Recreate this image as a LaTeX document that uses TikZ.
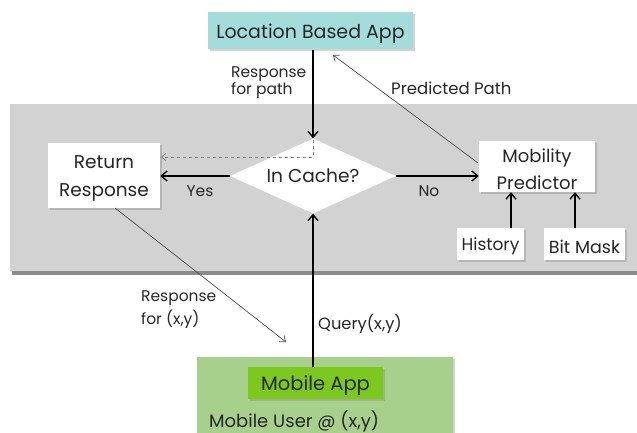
\documentclass[tikz,border=0pt]{standalone}
\usepackage{fontspec}
\setmainfont{Poppins}
\usetikzlibrary{shapes.geometric,arrows.meta,shadows}
\definecolor{cyanbox}{HTML}{A3DCDB}
\definecolor{bandgray}{HTML}{D2D2D2}
\definecolor{greenout}{HTML}{A8D08D}
\definecolor{greenin}{HTML}{7DC81E}
\definecolor{txt}{HTML}{262626}
\newcommand{\dnshift}[1]{\raisebox{-2.5pt}[\height][\depth]{#1}}
\tikzset{
  box/.style={draw=none, fill=white, inner sep=1pt, align=center, text=txt,
    drop shadow={shadow xshift=2pt, shadow yshift=-2pt, opacity=0.35}},
  lbl/.style={text=txt, font=\fontsize{15.5}{17}\selectfont, align=left, inner sep=0pt},
  thick arrow/.style={line width=1.5pt, -{Straight Barb[length=6pt,width=10pt,line width=1.3pt]}},
  thin arrow/.style={draw=black!70, line width=0.7pt, -{Straight Barb[length=5pt,width=8pt]}},
}
\begin{document}
\begin{tikzpicture}[x=1pt,y=-1pt]
\useasboundingbox (0,0) rectangle (637,433);
% gray band
\fill[black!45] (12,108) rectangle (637,275);
\node[fill=bandgray, minimum width=627pt, minimum height=167pt, inner sep=0pt, anchor=north west] (band) at (10,104) {};
% green user area
\node[fill=greenout, minimum width=256pt, minimum height=90pt, inner sep=0pt, anchor=north west,
  drop shadow={shadow xshift=2pt, shadow yshift=-2pt, opacity=0.35}] (user) at (197,357) {};
\node[lbl, font=\fontsize{18}{20}\selectfont, anchor=west] (usertxt) at (209,421) {Mobile User @ (x,y)};
\node[box, fill=greenin, minimum width=135pt, minimum height=32pt, font=\fontsize{19.5}{21}\selectfont] (app) at (315.5,383) {\dnshift{Mobile App}};
% top app
\node[box, fill=cyanbox, minimum width=205pt, minimum height=37pt, font=\fontsize{19}{21}\selectfont] (loc) at (310.5,31) {\dnshift{Location Based App}};
% boxes
\node[box, minimum width=112pt, minimum height=65pt, font=\fontsize{18.5}{28}\selectfont] (ret) at (104,175.5) {\dnshift{Return}\\\dnshift{Response}};
\node[draw=none, fill=white, diamond, aspect=2.2, minimum width=166pt, minimum height=75pt, inner sep=0pt, text=txt, font=\fontsize{18.6}{20}\selectfont] (cache) at (313,176) {In Cache?};
\node[box, minimum width=116pt, minimum height=51pt, font=\fontsize{18}{27}\selectfont] (mob) at (537,166.5) {\dnshift{Mobility}\\\dnshift{Predictor}};
\node[box, minimum width=67pt, minimum height=32pt, font=\fontsize{17}{19}\selectfont] (hist) at (490.5,244) {\dnshift{History}};
\node[box, minimum width=81pt, minimum height=32pt, font=\fontsize{17.5}{19}\selectfont] (bit) at (584.5,244) {\dnshift{Bit Mask}};
% coordinates
\coordinate (ctop) at (313,140);
\coordinate (cdash) at (313,157);
\coordinate (retdash) at (161,157);
\coordinate (predstart) at (478,163);
\coordinate (predend) at (333,55);
\coordinate (respstart) at (115,208);
\coordinate (respend) at (286,342);
% arrows
\draw[thick arrow] (loc.south -| cache.north) -- (cache.north);
\draw[thick arrow] (cache.west) -- (ret.east |- cache.west);
\draw[thick arrow] (cache.east) -- (mob.west |- cache.east);
\draw[thick arrow] (app.north -| cache.south) -- (cache.south);
\draw[thick arrow] (hist.north -| 511,0) -- (mob.south -| 511,0);
\draw[thick arrow] (bit.north -| 575,0) -- (mob.south -| 575,0);
\draw[draw=black!50, line width=0.8pt, dashed, -{Straight Barb[length=4pt,width=7pt]}] (ctop) -- (cdash) -- (retdash);
\draw[thin arrow] (predstart) -- (predend);
\draw[thin arrow] (respstart) -- (respend);
% labels
\node[lbl, font=\fontsize{15.5}{17}\selectfont, anchor=west] (l1) at (231,82.5) {Response\\for path};
\node[lbl, anchor=west, font=\fontsize{16.5}{18}\selectfont] (l2) at (391,88.5) {Predicted Path};
\node[lbl] (l3) at (200,191) {Yes};
\node[lbl] (l4) at (429,191) {No};
\node[lbl, font=\fontsize{16.3}{18}\selectfont, anchor=west] (l5) at (318,323.5) {Query(x,y)};
\node[lbl, font=\fontsize{15.5}{23}\selectfont, anchor=west] (l6) at (141,310) {Response\\for (x,y)};
\end{tikzpicture}
\end{document}
